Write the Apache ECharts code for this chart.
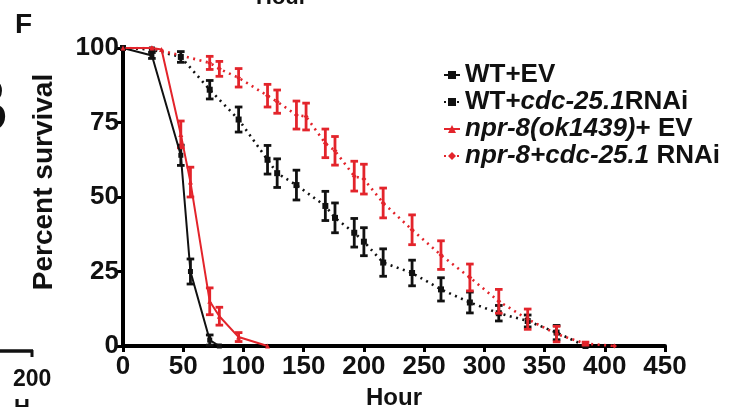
<!DOCTYPE html>
<html><head><meta charset="utf-8">
<script src="https://cdn.jsdelivr.net/npm/echarts@6/dist/echarts.min.js"></script>
<style>html,body{margin:0;padding:0;background:#fff}#c{width:739px;height:407px}</style>
</head><body><div id="c"></div>
<script>
// ---- data ----
const xTicks = [0, 50, 100, 150, 200, 250, 300, 350, 400, 450];
const yTicks = [0, 25, 50, 75, 100];
const seriesNames = ['WT+EV', 'WT+cdc-25.1RNAi', 'npr-8(ok1439)+ EV', 'npr-8+cdc-25.1 RNAi'];

const hoursWTEV = [0, 24, 48, 56, 72, 80];
const survWTEV  = [100, 97.5, 64, 25, 2, 0];
const errWTEV   = [0, 1, 3.4, 4.2, 1.7, 0];

const hoursWTcdc = [0, 24, 48, 72, 96, 120, 128, 144, 168, 176, 192, 200, 216, 240, 264, 288, 312, 336, 360, 384];
const survWTcdc  = [100, 99.5, 97, 86, 76, 62.5, 58, 54, 47, 43, 38, 35, 28, 24.5, 19, 14.6, 11, 8.4, 4.5, 0];
const errWTcdc   = [0, 0, 1.8, 3.1, 4.2, 4.8, 4.8, 5, 4.9, 5, 4.8, 4.7, 4.6, 4.3, 3.9, 3.5, 2.6, 2, 2.4, 0];

const hoursNprEV = [0, 24, 32, 48, 56, 72, 80, 96, 120];
const survNprEV  = [100, 100, 99.5, 71, 55, 15, 10, 3, 0];
const errNprEV   = [0, 0, 0, 4.5, 5, 4.5, 3, 1.5, 0];

const hoursNprCdc = [0, 24, 72, 80, 96, 120, 128, 144, 152, 168, 176, 192, 200, 216, 240, 264, 288, 312, 336, 360, 384, 408];
const survNprCdc  = [100, 100, 95, 93, 90, 84, 82, 77.5, 77, 68, 65.5, 57, 56, 48, 39, 30.5, 23, 15, 9, 4, 0.8, 0];
const errNprCdc   = [0, 0, 2.2, 2.5, 3.1, 3.8, 3.9, 4.7, 4.5, 4.8, 4.8, 5, 5, 5, 5, 4.8, 4.5, 4, 3.4, 2.6, 0.5, 0];

// ---- build ----
const RED = '#e3242b', BLK = '#111111';
const FONT = "'Liberation Sans', Arial, Helvetica, sans-serif";
const pts = (h, s) => h.map((x, i) => [x, s[i]]);
const errs = (h, s, e) => h.map((x, i) => [x, s[i] - e[i], s[i] + e[i]]).filter((d, i) => e[i] > 0);

function errSeries(name, data, color) {
  return {
    type: 'custom', name: name, data: data, z: 4, silent: true,
    encode: { x: 0, y: [1, 2] },
    renderItem: function (params, api) {
      const x = api.value(0);
      const lo = api.coord([x, api.value(1)]);
      const hi = api.coord([x, api.value(2)]);
      const w = 3.8;
      const st = { stroke: color, lineWidth: 2.8 };
      return { type: 'group', children: [
        { type: 'line', shape: { x1: lo[0], y1: lo[1], x2: hi[0], y2: hi[1] }, style: st },
        { type: 'line', shape: { x1: lo[0] - w, y1: lo[1], x2: lo[0] + w, y2: lo[1] }, style: st },
        { type: 'line', shape: { x1: hi[0] - w, y1: hi[1], x2: hi[0] + w, y2: hi[1] }, style: st }
      ]};
    }
  };
}

const chart = echarts.init(document.getElementById('c'), null, { renderer: 'canvas' });
chart.setOption({
  animation: false,
  backgroundColor: '#fff',
  grid: { left: 123, right: 74, top: 48, bottom: 61, containLabel: false, outerBoundsMode: 'none' },
  xAxis: {
    type: 'value', min: 0, max: 450, interval: 50,
    name: 'Hour', nameLocation: 'middle', nameGap: 40,
    nameTextStyle: { fontFamily: FONT, fontWeight: 'bold', fontSize: 24, color: '#111' },
    axisLine: { lineStyle: { color: '#000', width: 4 } },
    axisTick: { length: 6, lineStyle: { color: '#000', width: 3 } },
    axisLabel: { fontFamily: FONT, fontWeight: 'bold', fontSize: 26, color: '#111', margin: 8,
      formatter: v => xTicks.includes(v) ? String(v) : '' },
    splitLine: { show: false }
  },
  yAxis: {
    type: 'value', min: 0, max: 100, interval: 25,
    axisLine: { show: true, lineStyle: { color: '#000', width: 4 } },
    axisTick: { show: true, length: 6, lineStyle: { color: '#000', width: 3 } },
    axisLabel: { fontFamily: FONT, fontWeight: 'bold', fontSize: 26, color: '#111', margin: 4,
      formatter: v => yTicks.includes(v) ? String(v) : '' },
    splitLine: { show: false }
  },
  legend: {
    orient: 'vertical', left: 438, top: 57, itemGap: 1, itemWidth: 16, itemHeight: 10,
    data: seriesNames,
    textStyle: {
      fontFamily: FONT, fontSize: 26, fontWeight: 'bold', color: '#111', lineHeight: 26,
      rich: {
        b: { fontFamily: FONT, fontSize: 26, fontWeight: 'bold', color: '#111', lineHeight: 26 },
        bi: { fontFamily: FONT, fontSize: 26, fontWeight: 'bold', fontStyle: 'italic', color: '#111', lineHeight: 26 }
      }
    },
    formatter: function (n) {
      if (n === seriesNames[0]) return '{b|WT+EV}';
      if (n === seriesNames[1]) return '{b|WT+}{bi|cdc-25.1}{b|RNAi}';
      if (n === seriesNames[2]) return '{bi|npr-8(ok1439)}{b|+ EV}';
      return '{bi|npr-8+cdc-25.1} {b|RNAi}';
    }
  },
  series: [
    { name: seriesNames[0], type: 'line', data: pts(hoursWTEV, survWTEV), color: BLK, z: 5,
      lineStyle: { width: 2, color: BLK }, symbol: 'rect', symbolSize: 5, itemStyle: { color: BLK } },
    { name: seriesNames[1], type: 'line', data: pts(hoursWTcdc, survWTcdc), color: BLK, z: 3,
      lineStyle: { width: 2.6, color: BLK, type: [2, 4.5] }, symbol: 'rect', symbolSize: 6, itemStyle: { color: BLK } },
    { name: seriesNames[2], type: 'line', data: pts(hoursNprEV, survNprEV), color: RED, z: 5,
      lineStyle: { width: 2, color: RED }, symbol: 'triangle', symbolSize: 5, itemStyle: { color: RED } },
    { name: seriesNames[3], type: 'line', data: pts(hoursNprCdc, survNprCdc), color: RED, z: 3,
      lineStyle: { width: 2.6, color: RED, type: [2, 4.5] }, symbol: 'diamond', symbolSize: 5, itemStyle: { color: RED } },
    errSeries('e1', errs(hoursWTcdc, survWTcdc, errWTcdc), BLK),
    errSeries('e3', errs(hoursNprCdc, survNprCdc, errNprCdc), RED),
    errSeries('e0', errs(hoursWTEV, survWTEV, errWTEV), BLK),
    errSeries('e2', errs(hoursNprEV, survNprEV, errNprEV), RED)
  ],
  graphic: [
    { type: 'text', x: 44, y: 182, rotation: Math.PI / 2,
      style: { text: 'Percent survival', font: "bold 28px " + FONT, fill: '#111', align: 'center', verticalAlign: 'middle' } },
    { type: 'text', left: 15, top: 11, style: { text: 'F', font: "bold 28px " + FONT, fill: '#111' } },
    { type: 'text', left: 256, top: -13, style: { text: 'Hour', font: "bold 22px " + FONT, fill: '#111' } },
    { type: 'text', left: -49, top: 70, style: { text: 'B', font: "bold 80px " + FONT, fill: '#111' } },
    { type: 'line', shape: { x1: 0, y1: 351, x2: 33, y2: 351 }, style: { stroke: '#111', lineWidth: 3.5 } },
    { type: 'line', shape: { x1: 32, y1: 350, x2: 32, y2: 357 }, style: { stroke: '#111', lineWidth: 3 } },
    { type: 'text', left: 13, top: 368, style: { text: '200', font: "bold 23px " + FONT, fill: '#111' } },
    { type: 'text', left: 14, top: 397, style: { text: 'H', font: "bold 22px " + FONT, fill: '#111' } }
  ]
});
</script></body></html>
